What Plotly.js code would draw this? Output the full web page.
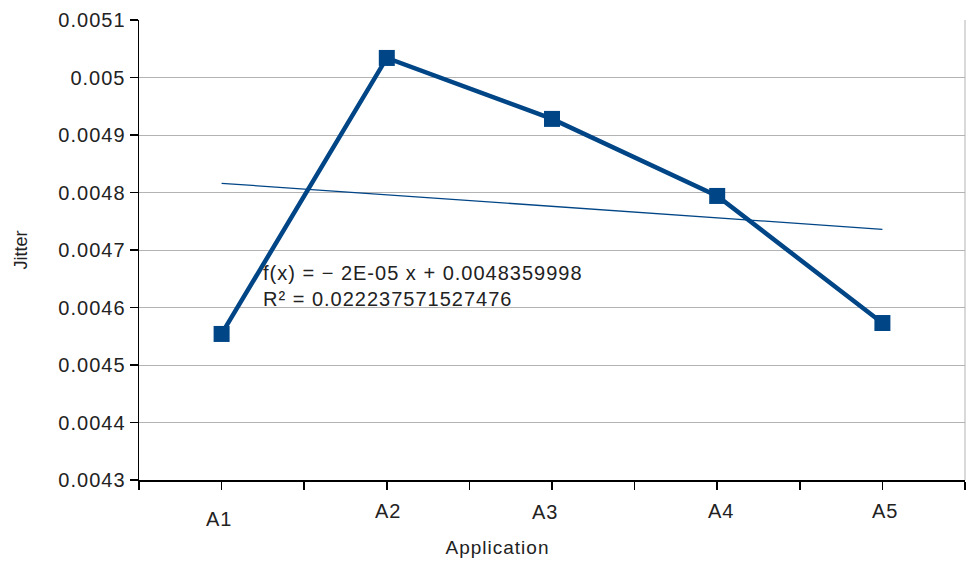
<!DOCTYPE html>
<html>
<head>
<meta charset="utf-8">
<script src="https://cdn.plot.ly/plotly-3.0.1.min.js"></script>
<style>
html,body{margin:0;padding:0;background:#fff;}
#chart{width:968px;height:564px;}
#chart .yaxislayer-above text, #chart .annotation text { letter-spacing: 1px; }
</style>
</head>
<body>
<div id="chart"></div>
<script>
const categories = ['A1', 'A2', 'A3', 'A4', 'A5'];
const jitter = [0.004554, 0.005034, 0.004928, 0.004794, 0.004573];
const trendSlope = -2e-5;
const trendIntercept = 0.0048359998;
const trendLabel = 'f(x) = \u2212 2E-05 x + 0.0048359998<br>R\u00B2 = 0.022237571527476';
const yTickVals = [0.0043, 0.0044, 0.0045, 0.0046, 0.0047, 0.0048, 0.0049, 0.005, 0.0051];
const yTickText = ['0.0043', '0.0044', '0.0045', '0.0046', '0.0047', '0.0048', '0.0049', '0.005', '0.0051'];

// label placement tweaks (pixels), layout only
const labelDX = [-3, 1, -7, 4, 3];
const labelDY = [-39, -31, -32, -31, -31];

const xIdx = categories.map((c, i) => i + 1);
const trendY = xIdx.map(x => trendSlope * x + trendIntercept);

const color = '#004586';
const font = 'Liberation Sans, Arial, sans-serif';
const textColor = '#222222';

const xTickVals = [];
for (let i = 0; i <= categories.length; i++) { xTickVals.push(i + 0.5); if (i < categories.length) xTickVals.push(i + 1); }

const data = [
  { x: xIdx, y: trendY, mode: 'lines', line: { color: color, width: 1.3 }, hoverinfo: 'skip', showlegend: false },
  { x: xIdx, y: jitter, mode: 'lines+markers', line: { color: color, width: 4.5 },
    marker: { symbol: 'square', size: 16, color: color }, showlegend: false }
];

const annotations = categories.map((c, i) => ({
  x: i + 1, xref: 'x', y: 0, yref: 'paper', text: c, showarrow: false,
  yanchor: 'middle', xshift: labelDX[i], yshift: labelDY[i], font: { family: font, size: 20, color: textColor }
}));
annotations.push({
  x: 1.24, xref: 'x', y: 0.004683, yref: 'y', text: trendLabel, showarrow: false,
  xanchor: 'left', yanchor: 'top', align: 'left', font: { family: font, size: 20, color: textColor }
});
annotations.push({
  x: 0.4346, xref: 'paper', y: 0, yref: 'paper', yanchor: 'middle', yshift: -67,
  text: 'Application', showarrow: false, font: { family: font, size: 19, color: textColor }
});

const layout = {
  width: 968, height: 564,
  margin: { l: 139, r: 3, t: 20, b: 84 },
  paper_bgcolor: '#ffffff', plot_bgcolor: '#ffffff',
  font: { family: font, color: textColor, size: 20 },
  xaxis: {
    type: 'linear', range: [0.5, 5.5], tickvals: xTickVals, ticktext: xTickVals.map(() => ''),
    ticks: 'outside', ticklen: 8, tickcolor: '#000000', tickwidth: 1.5,
    showgrid: false, zeroline: false, showline: true, linecolor: '#000000', linewidth: 1.5,
    mirror: false, fixedrange: true
  },
  yaxis: {
    range: [0.0043, 0.0051], tickvals: yTickVals, ticktext: yTickText,
    ticks: 'outside', ticklen: 8, tickcolor: '#000000', tickwidth: 1.5,
    showgrid: true, gridcolor: '#b3b3b3', gridwidth: 1, zeroline: false,
    showline: true, linecolor: '#000000', linewidth: 1.5,
    tickfont: { family: font, size: 20, color: textColor },
    title: { text: 'Jitter', font: { family: font, size: 18, color: textColor }, standoff: 32 },
    fixedrange: true
  },
  shapes: [{ type: 'line', xref: 'paper', yref: 'paper', x0: 1, x1: 1, y0: 0, y1: 1, line: { color: '#b3b3b3', width: 1 } }],
  annotations: annotations
};

Plotly.newPlot('chart', data, layout, { displayModeBar: false, staticPlot: true });
</script>
</body>
</html>
